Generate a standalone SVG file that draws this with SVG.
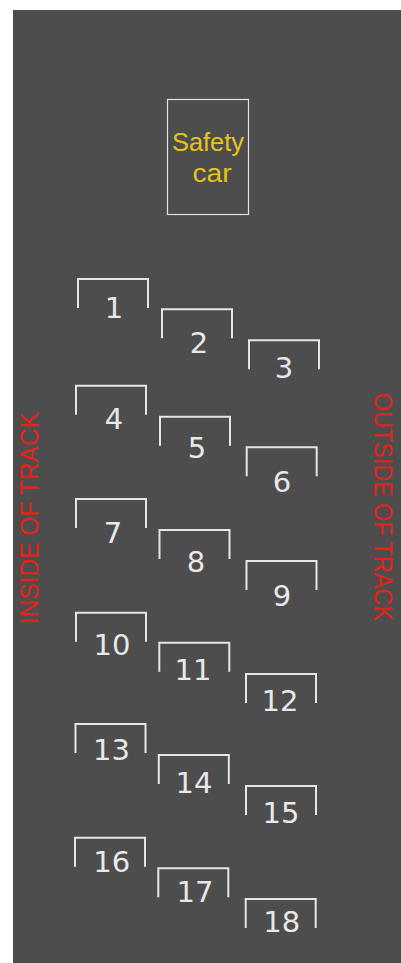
<svg xmlns="http://www.w3.org/2000/svg" width="401" height="963" viewBox="0 0 401 963">
<style>
.br{fill:none;stroke:#e6e6e6;stroke-width:2}
.num{font-family:"DejaVu Sans","Liberation Sans",sans-serif;font-size:29px;fill:#e8e8e8;text-anchor:middle}
.side{font-family:"Liberation Sans",Arial,sans-serif;font-size:26px;fill:#e3241b;text-anchor:middle}
.sc{font-family:"Liberation Sans",Arial,sans-serif;font-size:25px;fill:#e6c41c;text-anchor:middle}
</style>
<rect x="13" y="10" width="388" height="953" fill="#4d4d4d"/>
<g id="safety-car">
<rect x="167.5" y="99.5" width="81" height="115" fill="none" stroke="#e0e0e0" stroke-width="1.2"/>
<text class="sc" x="208" y="150.5" textLength="72" lengthAdjust="spacingAndGlyphs">Safety</text>
<text class="sc" x="212" y="181.5" textLength="39" lengthAdjust="spacingAndGlyphs">car</text>
</g>
<g id="inside-label"><text class="side" transform="translate(38,518) rotate(-90)" textLength="212" lengthAdjust="spacingAndGlyphs">INSIDE OF TRACK</text></g>
<g id="outside-label"><text class="side" transform="translate(374,507) rotate(90)" textLength="228" lengthAdjust="spacingAndGlyphs">OUTSIDE OF TRACK</text></g>
<g id="p1"><path class="br" d="M78,308V279H148V308"/><text class="num" x="114" y="317.7">1</text></g>
<g id="p2"><path class="br" d="M162,338.3V309.3H232V338.3"/><text class="num" x="199" y="353.3">2</text></g>
<g id="p3"><path class="br" d="M249,369.3V340.3H319V369.3"/><text class="num" x="284" y="378.3">3</text></g>
<g id="p4"><path class="br" d="M76,414.7V385.7H146V414.7"/><text class="num" x="114" y="429">4</text></g>
<g id="p5"><path class="br" d="M160,445.7V416.7H230V445.7"/><text class="num" x="197" y="458">5</text></g>
<g id="p6"><path class="br" d="M246.7,476.3V447.3H316.7V476.3"/><text class="num" x="282" y="492">6</text></g>
<g id="p7"><path class="br" d="M76,528V499H146V528"/><text class="num" x="113" y="543">7</text></g>
<g id="p8"><path class="br" d="M159.5,559V530H229.5V559"/><text class="num" x="196" y="572">8</text></g>
<g id="p9"><path class="br" d="M246.5,590V561H316.5V590"/><text class="num" x="282" y="606">9</text></g>
<g id="p10"><path class="br" d="M76,641.7V612.7H146V641.7"/><text class="num" x="112" y="655">10</text></g>
<g id="p11"><path class="br" d="M159.3,671.7V642.7H229.3V671.7"/><text class="num" x="193" y="680">11</text></g>
<g id="p12"><path class="br" d="M246,703V674H316V703"/><text class="num" x="280" y="710.7">12</text></g>
<g id="p13"><path class="br" d="M75.5,753V724H145.5V753"/><text class="num" x="111.5" y="760">13</text></g>
<g id="p14"><path class="br" d="M158.8,784V755H228.8V784"/><text class="num" x="194" y="793">14</text></g>
<g id="p15"><path class="br" d="M246,815V786H316V815"/><text class="num" x="281" y="823">15</text></g>
<g id="p16"><path class="br" d="M75,866.7V837.7H145V866.7"/><text class="num" x="111.7" y="871.7">16</text></g>
<g id="p17"><path class="br" d="M158.3,897.3V868.3H228.3V897.3"/><text class="num" x="195" y="901.7">17</text></g>
<g id="p18"><path class="br" d="M245.7,928V899H315.7V928"/><text class="num" x="281.7" y="931.7">18</text></g>
</svg>
